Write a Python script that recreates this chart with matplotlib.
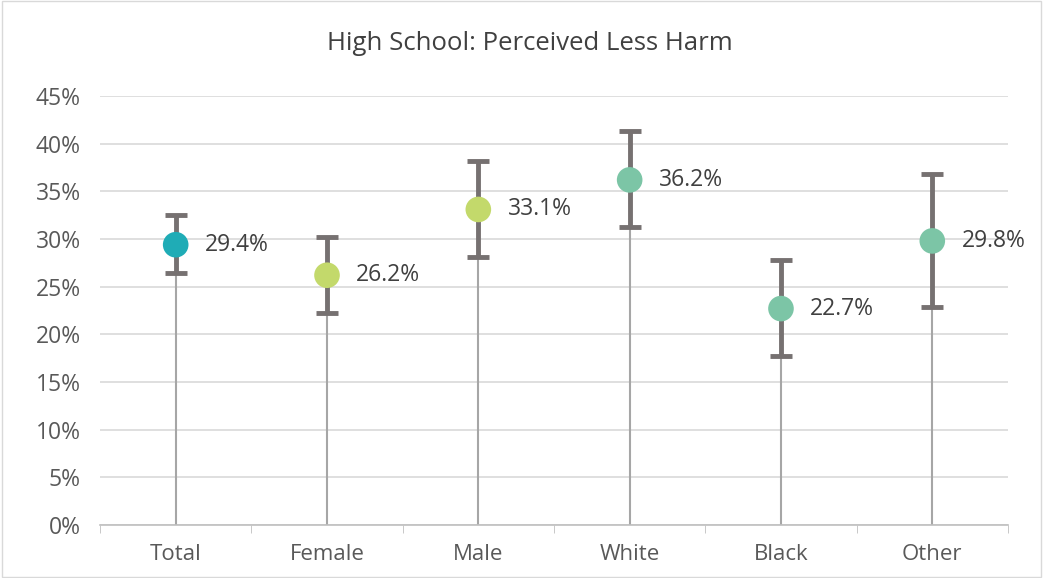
import matplotlib.pyplot as plt
import numpy as np

plt.rcParams['font.family'] = ['Open Sans', 'DejaVu Sans']

# data
groups = ["Total", "Female", "Male", "White", "Black", "Other"]
values = [29.4, 26.2, 33.1, 36.2, 22.7, 29.8]
upper = [32.5, 30.2, 38.2, 41.3, 27.8, 36.8]
lower = [26.4, 22.2, 28.1, 31.3, 17.7, 22.9]
colors = ["#1FACB6", "#C3D96B", "#C3D96B", "#7CC5A6", "#7CC5A6", "#7CC5A6"]

fig = plt.figure(figsize=(10.43, 5.78), dpi=100)
ax = fig.add_axes([0.0959, 0.0917, 0.8705, 0.7422])

x = np.arange(len(groups))
v = np.array(values)
err = [v - np.array(lower), np.array(upper) - v]

# drop lines from zero
ax.vlines(x, 0, v, color="#A6A6A6", lw=1.5, zorder=2)
ax.errorbar(x, v, yerr=err, fmt="none", ecolor="#767171", elinewidth=3.5,
            capsize=8, capthick=3.5, zorder=3)
ax.scatter(x, v, s=340, c=colors, zorder=4, edgecolors="none")

for xi, val in zip(x, values):
    ax.annotate(f"{val}%", (xi, val), xytext=(21, 0), textcoords="offset points",
                va="center", ha="left", fontsize=16.5, color="#404040")

ax.set_xlim(-0.5, len(groups) - 0.5)
ax.set_ylim(0, 45)
ax.set_yticks(range(0, 50, 5))
ax.set_yticklabels([f"{t}%" for t in range(0, 50, 5)])
ax.set_xticks(x)
ax.set_xticklabels(groups)
ax.set_xticks(np.arange(-0.5, len(groups), 1), minor=True)
ax.tick_params(axis="x", which="major", length=0, pad=14, labelsize=16, labelcolor="#595959")
ax.tick_params(axis="x", which="minor", length=6, color="#BFBFBF", direction="out")
ax.tick_params(axis="y", length=0, pad=14, labelsize=16.5, labelcolor="#595959")
ax.grid(axis="y", color="#D9D9D9", lw=1.2, zorder=0)
ax.set_axisbelow(True)
for s in ["top", "right", "left"]:
    ax.spines[s].set_visible(False)
ax.spines["bottom"].set_color("#BFBFBF")
ax.spines["bottom"].set_linewidth(1.2)

fig.text(0.508, 0.925, "High School: Perceived Less Harm", ha="center", va="center",
         fontsize=18.5, color="#404040")

# outer border
fig.patches.append(plt.Rectangle((0.002, 0.002), 0.996, 0.996, transform=fig.transFigure,
                                 fill=False, edgecolor="#D9D9D9", lw=1))

fig.savefig("out.png", dpi=100)
